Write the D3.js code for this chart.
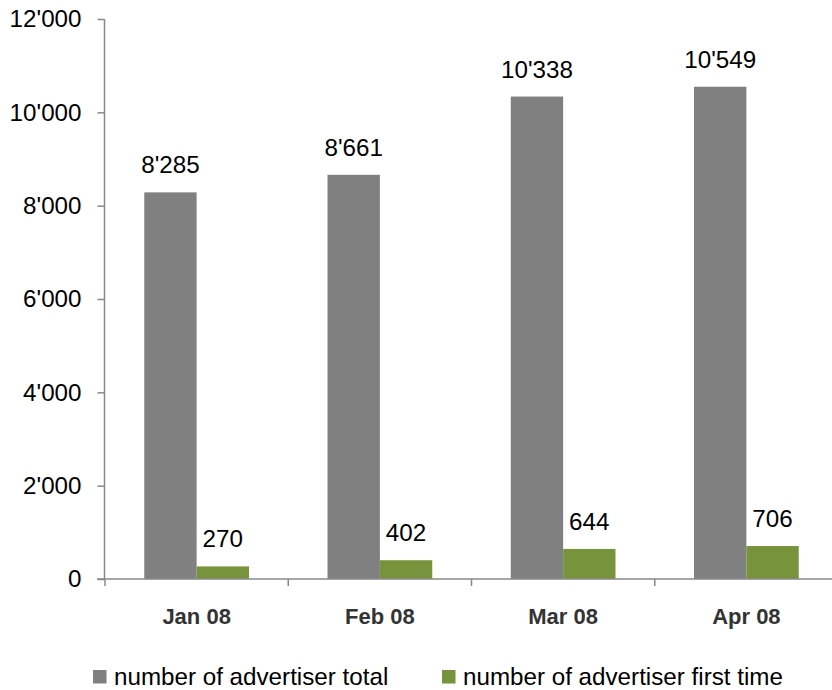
<!DOCTYPE html>
<html>
<head>
<meta charset="utf-8">
<script src="https://cdn.jsdelivr.net/npm/d3@7"></script>
<style>
  body { margin: 0; background: #fff; }
  svg { display: block; }
</style>
</head>
<body>
<svg id="chart" width="832" height="690"></svg>
<script>
const categories = ["Jan 08", "Feb 08", "Mar 08", "Apr 08"];
const seriesNames = ["number of advertiser total", "number of advertiser first time"];
const totalValues = [8285, 8661, 10338, 10549];
const firstTimeValues = [270, 402, 644, 706];
const yTicks = [0, 2000, 4000, 6000, 8000, 10000, 12000];
const colors = ["#808080", "#77933C"];

const svg = d3.select("#chart");
const font = "Arial, 'Liberation Sans', sans-serif";
const fs = "24.2px";
const x0 = 105, x1 = 838, yTop = 19, yBottom = 579;

const x = d3.scaleBand().domain(categories).range([x0, x1]).paddingInner(0).paddingOuter(0);
const inner = d3.scaleBand().domain([0, 1]).range([0, x.bandwidth()]).paddingInner(0).paddingOuter(0.75);
const y = d3.scaleLinear().domain([0, 12000]).range([yBottom, yTop]);

const fmt = v => d3.format(",")(v).replace(/,/g, "'");

// Y axis
const yAxis = svg.append("g").attr("transform", `translate(${x0 - 0.5},0)`)
  .call(d3.axisLeft(y).tickValues(yTicks).tickSize(7).tickPadding(16).tickFormat(fmt));
yAxis.select(".domain").attr("stroke", "#888").attr("stroke-width", 1.5).attr("d", `M0,${yTop}V${yBottom}`);
yAxis.selectAll(".tick line").attr("stroke", "#888").attr("stroke-width", 1.5);
yAxis.selectAll(".tick text").attr("font-family", font).attr("font-size", fs).attr("fill", "#000");

// Bars
const data = categories.map((c, i) => ({ c, vals: [totalValues[i], firstTimeValues[i]] }));
const groups = svg.append("g").selectAll("g").data(data).join("g")
  .attr("transform", d => `translate(${x(d.c)},0)`);
groups.selectAll("rect").data(d => d.vals.map((v, k) => ({ v, k }))).join("rect")
  .attr("x", d => inner(d.k))
  .attr("width", inner.bandwidth())
  .attr("y", d => y(d.v))
  .attr("height", d => y(0) - y(d.v))
  .attr("fill", d => colors[d.k]);
groups.selectAll("text").data(d => d.vals.map((v, k) => ({ v, k }))).join("text")
  .attr("x", d => inner(d.k) + inner.bandwidth() / 2)
  .attr("y", d => y(d.v) - 19)
  .attr("text-anchor", "middle")
  .attr("font-family", font).attr("font-size", fs).attr("fill", "#000")
  .text(d => fmt(d.v));

// X axis
const xAxis = svg.append("g").attr("transform", `translate(0,${yBottom})`);
xAxis.append("line").attr("x1", x0 - 8).attr("x2", 832).attr("y1", 0).attr("y2", 0)
  .attr("stroke", "#888").attr("stroke-width", 1.5);
const boundaries = categories.map(c => x(c));
xAxis.selectAll("line.tk").data(boundaries).join("line").attr("class", "tk")
  .attr("x1", d => d).attr("x2", d => d).attr("y1", 0).attr("y2", 7)
  .attr("stroke", "#888").attr("stroke-width", 1.5);
xAxis.selectAll("text").data(categories).join("text")
  .attr("x", d => x(d) + x.bandwidth() / 2)
  .attr("y", 45)
  .attr("text-anchor", "middle")
  .attr("font-family", font).attr("font-size", "22px").attr("font-weight", "bold").attr("fill", "#333")
  .text(d => d);

// Legend
const legendItems = [{ name: seriesNames[0], x: 93 }, { name: seriesNames[1], x: 442 }];
const lg = svg.append("g").selectAll("g").data(legendItems).join("g")
  .attr("transform", d => `translate(${d.x},677)`);
lg.append("rect").attr("x", 0).attr("y", -7).attr("width", 13.5).attr("height", 13.5)
  .attr("fill", (d, i) => colors[i]);
lg.append("text").attr("x", 21).attr("y", 8)
  .attr("font-family", font).attr("font-size", fs).attr("fill", "#000")
  .text(d => d.name);
</script>
</body>
</html>
